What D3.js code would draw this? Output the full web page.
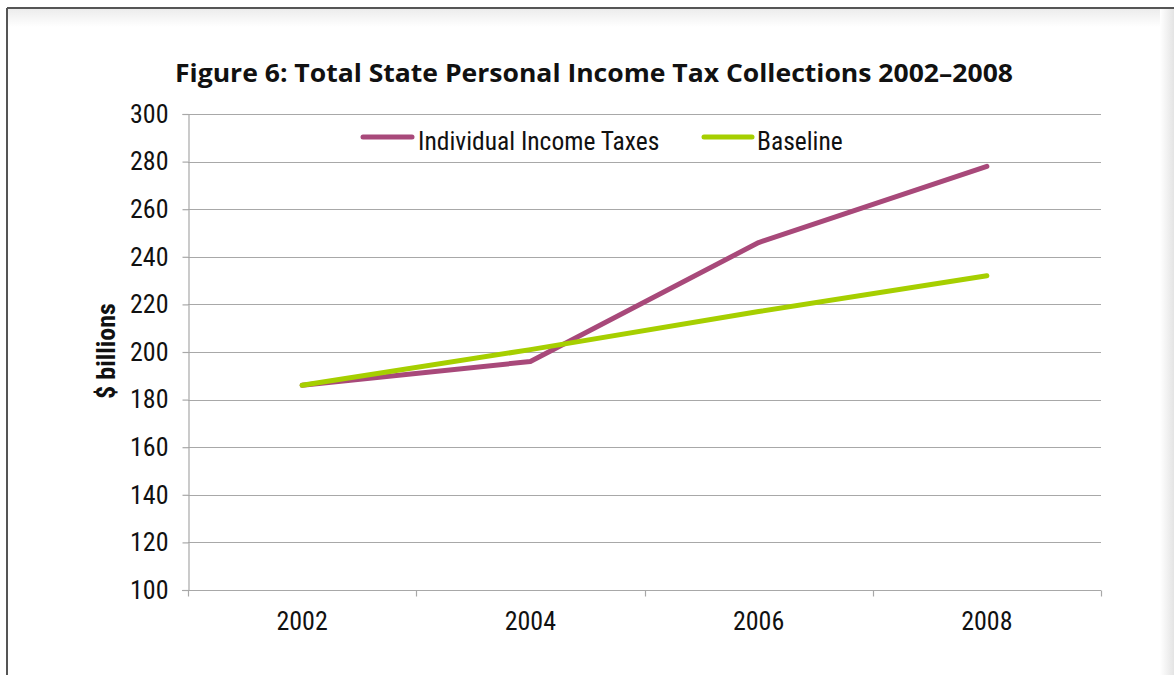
<!DOCTYPE html>
<html>
<head>
<meta charset="utf-8">
<script src="https://cdn.jsdelivr.net/npm/d3@7/dist/d3.min.js"></script>
<style>
  html, body { margin: 0; padding: 0; background: #fff; }
  svg { display: block; }
  .tick text { font-family: "Liberation Sans Narrow", "Roboto Condensed", Roboto, sans-serif; }
</style>
</head>
<body>
<svg id="chart" width="1174" height="675"></svg>
<script>
// Chart data
const years = ["2002", "2004", "2006", "2008"];
const incomeTaxes = [186, 196, 246, 278];
const baseline = [186, 201, 217, 232];
const yTicks = [100, 120, 140, 160, 180, 200, 220, 240, 260, 280, 300];
const seriesNames = ["Individual Income Taxes", "Baseline"];
const seriesColors = ["#a8497a", "#a6cf00"];

const svg = d3.select("#chart");
const W = 1174, H = 675;
const narrow = "'Liberation Sans Narrow', 'Roboto Condensed', Roboto, sans-serif";

// Frame around the figure with a faint inner shadow
const defs = svg.append("defs");
const gTop = defs.append("linearGradient").attr("id", "shadeTop").attr("x1", 0).attr("y1", 0).attr("x2", 0).attr("y2", 1);
gTop.append("stop").attr("offset", 0).attr("stop-color", "#ececec");
gTop.append("stop").attr("offset", 1).attr("stop-color", "#ffffff");
const gRight = defs.append("linearGradient").attr("id", "shadeRight").attr("x1", 0).attr("y1", 0).attr("x2", 1).attr("y2", 0);
gRight.append("stop").attr("offset", 0).attr("stop-color", "#ffffff");
gRight.append("stop").attr("offset", 1).attr("stop-color", "#e4e4e4");

svg.append("rect").attr("x", 8).attr("y", 9).attr("width", W - 8).attr("height", 18).attr("fill", "url(#shadeTop)");
svg.append("rect").attr("x", 1160).attr("y", 9).attr("width", 14).attr("height", H - 9).attr("fill", "url(#shadeRight)");
svg.append("line").attr("x1", 7).attr("x2", W).attr("y1", 8).attr("y2", 8).attr("stroke", "#555").attr("stroke-width", 2);
svg.append("line").attr("x1", 7).attr("x2", 7).attr("y1", 8).attr("y2", H).attr("stroke", "#555").attr("stroke-width", 2);

// Title
svg.append("text")
  .attr("x", 594).attr("y", 82)
  .attr("text-anchor", "middle")
  .attr("font-family", "'Open Sans', 'Noto Sans', sans-serif")
  .attr("font-weight", "bold")
  .attr("font-size", 25)
  .attr("textLength", 838)
  .attr("lengthAdjust", "spacingAndGlyphs")
  .attr("fill", "#111")
  .text("Figure 6: Total State Personal Income Tax Collections 2002–2008");

// Plot area
const plotLeft = 188, plotRight = 1101, plotTop = 114, plotBottom = 590;

const x = d3.scaleBand().domain(years).range([plotLeft, plotRight]).padding(0);
const y = d3.scaleLinear().domain([100, 300]).range([plotBottom, plotTop]);

// Gridlines
svg.append("g")
  .selectAll("line")
  .data(yTicks.filter(v => v > 100))
  .join("line")
  .attr("x1", plotLeft).attr("x2", plotRight)
  .attr("y1", d => Math.round(y(d)) + 0.5).attr("y2", d => Math.round(y(d)) + 0.5)
  .attr("stroke", "#a8a8a8").attr("stroke-width", 1.2);

// Y axis
const yAxis = svg.append("g")
  .attr("transform", `translate(${plotLeft + 0.5},0)`)
  .call(d3.axisLeft(y).tickValues(yTicks).tickSize(6).tickPadding(14).tickFormat(d3.format("d")));
yAxis.selectAll("path, line").attr("stroke", "#a8a8a8").attr("stroke-width", 1.2);
yAxis.selectAll("text").attr("font-size", 26).attr("fill", "#111");

// X axis: ticks at category boundaries
const xAxis = svg.append("g").attr("transform", `translate(0,${plotBottom + 0.5})`);
xAxis.append("line").attr("x1", plotLeft - 6).attr("x2", plotRight).attr("stroke", "#a8a8a8").attr("stroke-width", 1.2);
const boundaries = years.map(d => x(d)).concat([plotRight]);
xAxis.selectAll("line.tk").data(boundaries).join("line")
  .attr("class", "tk")
  .attr("x1", d => Math.round(d) + 0.5).attr("x2", d => Math.round(d) + 0.5)
  .attr("y1", 0).attr("y2", 6)
  .attr("stroke", "#a8a8a8").attr("stroke-width", 1.2);
xAxis.selectAll("text").data(years).join("text")
  .attr("x", d => x(d) + x.bandwidth() / 2)
  .attr("y", 39)
  .attr("text-anchor", "middle")
  .attr("font-family", narrow)
  .attr("font-size", 26)
  .attr("fill", "#111")
  .text(d => d);

// Y axis title
svg.append("text")
  .attr("transform", "translate(115,351) rotate(-90)")
  .attr("text-anchor", "middle")
  .attr("font-family", narrow)
  .attr("font-weight", "bold")
  .attr("font-size", 26)
  .attr("fill", "#111")
  .text("$ billions");

// Lines
const line = d3.line()
  .x((d, i) => x(years[i]) + x.bandwidth() / 2)
  .y(d => y(d));

[incomeTaxes, baseline].forEach((vals, i) => {
  svg.append("path")
    .datum(vals)
    .attr("d", line)
    .attr("fill", "none")
    .attr("stroke", seriesColors[i])
    .attr("stroke-width", 5)
    .attr("stroke-linecap", "round")
    .attr("stroke-linejoin", "round");
});

// Legend
const legendItems = [
  { x1: 363, x2: 412, tx: 418 },
  { x1: 704, x2: 752, tx: 757 }
];
legendItems.forEach((it, i) => {
  svg.append("line")
    .attr("x1", it.x1).attr("x2", it.x2)
    .attr("y1", 137).attr("y2", 137)
    .attr("stroke", seriesColors[i]).attr("stroke-width", 5).attr("stroke-linecap", "round");
  svg.append("text")
    .attr("x", it.tx).attr("y", 150)
    .attr("font-family", narrow)
    .attr("font-size", 25.5)
    .attr("fill", "#111")
    .text(seriesNames[i]);
});
</script>
</body>
</html>
